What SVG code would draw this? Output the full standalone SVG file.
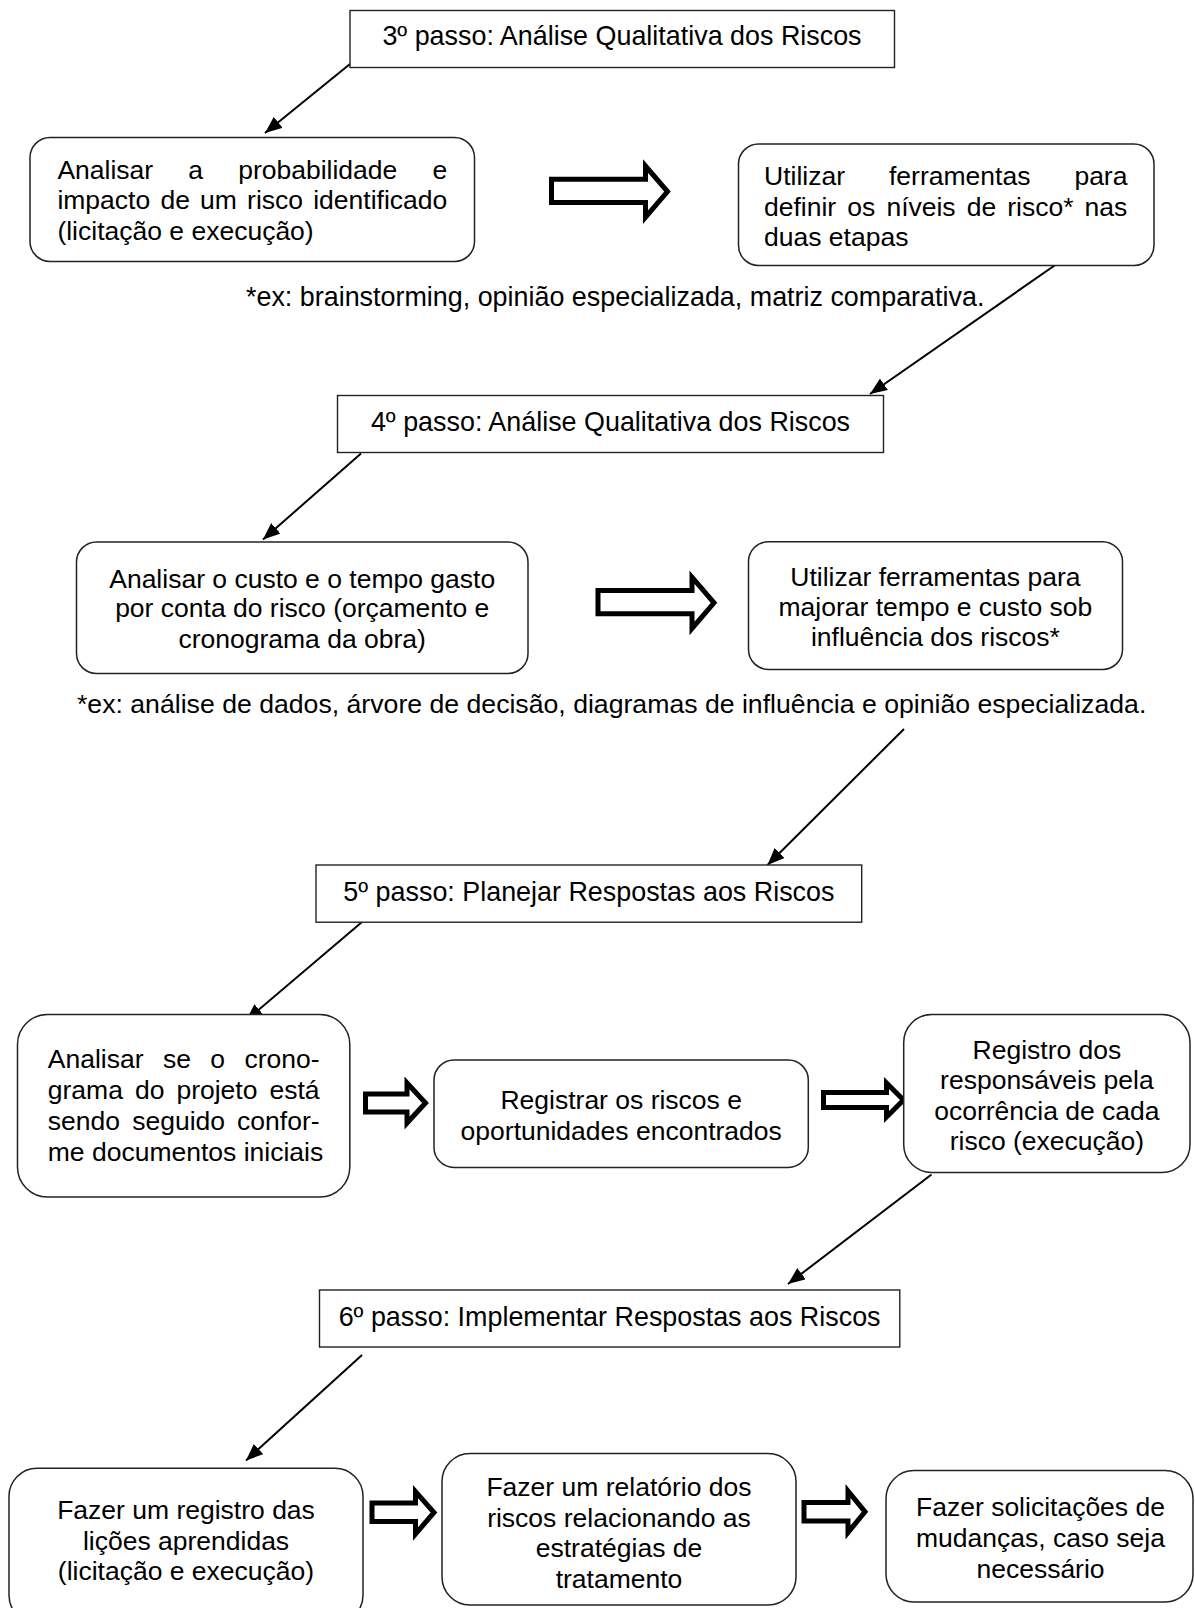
<svg xmlns="http://www.w3.org/2000/svg" width="1195" height="1608" viewBox="0 0 1195 1608">
  <style>
    text { font-family: "Liberation Sans", Arial, sans-serif; font-size: 26.5px; fill: #000; }
    .c { text-anchor: middle; }
    .head, .note { font-size: 26.9px; }
    .note.long { font-size: 26.65px; }
    .step { fill: #fff; stroke: #222; stroke-width: 1.4; }
    .task { fill: #fff; stroke: #222; stroke-width: 1.5; }
    .link { fill: none; stroke: #000; stroke-width: 2; marker-end: url(#ah); }
    .flow { fill: #fff; stroke: #000; stroke-width: 5; stroke-linejoin: miter; stroke-miterlimit: 10; }
  </style>
  <defs>
    <marker id="ah" markerUnits="userSpaceOnUse" markerWidth="18" markerHeight="14" refX="17" refY="7" orient="auto">
      <path d="M0,0 L17,7 L0,14 z" fill="#000"/>
    </marker>
    <!-- hollow block arrow used between tasks -->
    <polygon id="bigArrow" points="0,-12.4 94,-12.4 94,-25.6 116,0 94,25.6 94,11 0,11"/>
  </defs>

  <rect width="1195" height="1608" fill="#fff"/>

  <!-- connectors -->
  <g id="connectors">
    <line class="link" x1="350" y1="64" x2="265" y2="133"/>
    <line class="link" x1="1061" y1="261" x2="870" y2="394"/>
    <line class="link" x1="361" y1="453.5" x2="263" y2="539.5"/>
    <line class="link" x1="904" y1="729" x2="767.5" y2="865"/>
    <line class="link" x1="362" y1="922" x2="246" y2="1020.5"/>
    <line class="link" x1="931.5" y1="1174.5" x2="788" y2="1284"/>
    <line class="link" x1="362" y1="1355" x2="246" y2="1460.5"/>

    <use href="#bigArrow" class="flow" transform="translate(551.5,191.6)"/>
    <use href="#bigArrow" class="flow" transform="translate(598,602.8)"/>
    <polygon class="flow" points="365.5,1094 407,1094 407,1083 425.5,1103 407,1123 407,1112 365.5,1112"/>
    <polygon class="flow" points="823.5,1092.5 886.5,1092.5 886.5,1083 903.5,1100 886.5,1117 886.5,1107.5 823.5,1107.5"/>
    <polygon class="flow" points="372,1503 415.5,1503 415.5,1491.5 434,1512.5 415.5,1534 415.5,1521.5 372,1521.5"/>
    <polygon class="flow" points="804,1502.5 848,1502.5 848,1491 865,1511.8 848,1532.5 848,1521 804,1521"/>
  </g>

  <!-- step 3 -->
  <g id="step3">
    <rect class="step" x="350" y="10.5" width="544.5" height="57"/>
    <text class="c head" x="622" y="45">3º passo: Análise Qualitativa dos Riscos</text>
  </g>

  <g id="probabilidade">
    <rect class="task" x="30" y="137.5" width="444.5" height="124" rx="20"/>
    <text y="178.5"><tspan x="57.4">Analisar</tspan><tspan x="188.3">a</tspan><tspan x="238.2">probabilidade</tspan><tspan x="432.5">e</tspan></text>
    <text y="209"><tspan x="57.4">impacto</tspan><tspan x="160.4">de</tspan><tspan x="200.1">um</tspan><tspan x="247.1">risco</tspan><tspan x="313.2">identificado</tspan></text>
    <text x="57.4" y="240">(licitação e execução)</text>
  </g>

  <g id="niveis">
    <rect class="task" x="738.5" y="144" width="415.5" height="121.5" rx="20"/>
    <text y="185"><tspan x="764">Utilizar</tspan><tspan x="889">ferramentas</tspan><tspan x="1074.4">para</tspan></text>
    <text y="215.5"><tspan x="764">definir</tspan><tspan x="847.3">os</tspan><tspan x="886.4">níveis</tspan><tspan x="966.7">de</tspan><tspan x="1007.3">risco*</tspan><tspan x="1084.6">nas</tspan></text>
    <text x="764" y="246">duas etapas</text>
  </g>

  <g id="nota3">
    <text class="note" x="246" y="306">*ex: brainstorming, opinião especializada, matriz comparativa.</text>
  </g>

  <!-- step 4 -->
  <g id="step4">
    <rect class="step" x="337.5" y="395.5" width="546" height="57"/>
    <text class="c head" x="610.5" y="430.5">4º passo: Análise Qualitativa dos Riscos</text>
  </g>

  <g id="custo">
    <rect class="task" x="76.5" y="542" width="451.5" height="131.5" rx="20"/>
    <text class="c" x="302.2" y="587.5">Analisar o custo e o tempo gasto</text>
    <text class="c" x="302.2" y="617">por conta do risco (orçamento e</text>
    <text class="c" x="302.2" y="647.5">cronograma da obra)</text>
  </g>

  <g id="majorar">
    <rect class="task" x="748.5" y="541.7" width="374" height="127.8" rx="20"/>
    <text class="c" x="935.4" y="585.5">Utilizar ferramentas para</text>
    <text class="c" x="935.4" y="615.5">majorar tempo e custo sob</text>
    <text class="c" x="935.4" y="646">influência dos riscos*</text>
  </g>

  <g id="nota4">
    <text class="note long" x="77" y="713">*ex: análise de dados, árvore de decisão, diagramas de influência e opinião especializada.</text>
  </g>

  <!-- step 5 -->
  <g id="step5">
    <rect class="step" x="316" y="865" width="545.7" height="57.2"/>
    <text class="c head" x="588.9" y="900.5">5º passo: Planejar Respostas aos Riscos</text>
  </g>

  <g id="cronograma">
    <rect class="task" x="17.5" y="1014.5" width="332.3" height="182.5" rx="30"/>
    <text y="1068"><tspan x="47.8">Analisar</tspan><tspan x="162.9">se</tspan><tspan x="210.3">o</tspan><tspan x="244.4">crono-</tspan></text>
    <text y="1099"><tspan x="47.8">grama</tspan><tspan x="134.9">do</tspan><tspan x="176.4">projeto</tspan><tspan x="269.4">está</tspan></text>
    <text y="1130"><tspan x="47.8">sendo</tspan><tspan x="132.2">seguido</tspan><tspan x="237.1">confor-</tspan></text>
    <text x="47.8" y="1161">me documentos iniciais</text>
  </g>

  <g id="registrar">
    <rect class="task" x="434" y="1060" width="374.3" height="107.4" rx="20"/>
    <text class="c" x="621.2" y="1108.5">Registrar os riscos e</text>
    <text class="c" x="621.2" y="1139.5">oportunidades encontrados</text>
  </g>

  <g id="responsaveis">
    <rect class="task" x="903.7" y="1014.5" width="286.3" height="158" rx="28"/>
    <text class="c" x="1046.9" y="1058.5">Registro dos</text>
    <text class="c" x="1046.9" y="1089">responsáveis pela</text>
    <text class="c" x="1046.9" y="1120">ocorrência de cada</text>
    <text class="c" x="1046.9" y="1150">risco (execução)</text>
  </g>

  <!-- step 6 -->
  <g id="step6">
    <rect class="step" x="319.5" y="1290" width="580.3" height="57"/>
    <text class="c head" x="609.6" y="1326">6º passo: Implementar Respostas aos Riscos</text>
  </g>

  <g id="licoes">
    <rect class="task" x="9" y="1468.3" width="354" height="155" rx="28"/>
    <text class="c" x="186" y="1519">Fazer um registro das</text>
    <text class="c" x="186" y="1549.5">lições aprendidas</text>
    <text class="c" x="186" y="1580">(licitação e execução)</text>
  </g>

  <g id="relatorio">
    <rect class="task" x="442" y="1453.5" width="354" height="151.5" rx="28"/>
    <text class="c" x="619" y="1496">Fazer um relatório dos</text>
    <text class="c" x="619" y="1526.5">riscos relacionando as</text>
    <text class="c" x="619" y="1557">estratégias de</text>
    <text class="c" x="619" y="1587.5">tratamento</text>
  </g>

  <g id="mudancas">
    <rect class="task" x="886" y="1470.5" width="307" height="131.5" rx="28"/>
    <text class="c" x="1040.5" y="1516">Fazer solicitações de</text>
    <text class="c" x="1040.5" y="1547">mudanças, caso seja</text>
    <text class="c" x="1040.5" y="1578">necessário</text>
  </g>
</svg>
